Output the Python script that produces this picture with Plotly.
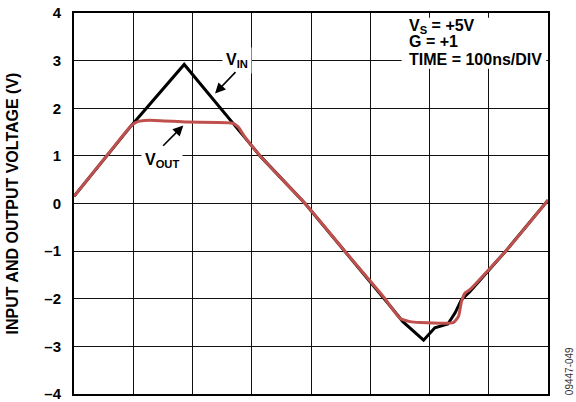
import plotly.graph_objects as go

# Time axis in ns (100 ns/div), voltages in V
t_vin = [0, 55, 97, 186, 267, 314, 390, 457, 525, 533, 555, 590, 609, 631, 643, 654, 668, 730, 800]
v_in = [0.15, 1.0, 1.64, 2.92, 1.69, 1.0, 0.0, -1.0, -2.0, -2.14, -2.48, -2.87, -2.61, -2.53, -2.30, -2.02, -1.85, -0.98, 0.07]

t_vout = [0, 55, 97, 104, 111, 128, 191, 266, 277, 287, 314, 390, 457, 525, 533, 550, 567, 584, 640, 649, 654, 660, 668, 730, 800]
v_out = [0.15, 1.0, 1.64, 1.70, 1.73, 1.75, 1.71, 1.69, 1.61, 1.42, 1.0, 0.0, -1.0, -2.0, -2.14, -2.41, -2.48, -2.50, -2.50, -2.37, -2.06, -1.88, -1.81, -0.98, 0.07]

y_ticks = [-4, -3, -2, -1, 0, 1, 2, 3, 4]
y_ticktext = ["–4", "–3", "–2", "–1", "0", "1", "2", "3", "4"]
x_ticks = [0, 100, 200, 300, 400, 500, 600, 700, 800]

FONT = "Liberation Sans, Arial, sans-serif"

fig = go.Figure()
fig.add_trace(go.Scatter(x=t_vin, y=v_in, mode="lines",
                         line=dict(color="black", width=3), showlegend=False))
fig.add_trace(go.Scatter(x=t_vout, y=v_out, mode="lines",
                         line=dict(color="#C0504D", width=3, shape="spline", smoothing=0.5),
                         showlegend=False))

fig.update_xaxes(range=[0, 800], tickvals=x_ticks, showticklabels=False,
                 showgrid=True, gridcolor="#111", gridwidth=1.2,
                 showline=True, mirror=True, linecolor="black", linewidth=2,
                 zeroline=False, ticks="", automargin=False)
fig.update_yaxes(range=[-4, 4], tickvals=y_ticks, ticktext=y_ticktext,
                 tickfont=dict(family=FONT, size=15, color="black", weight="bold"),
                 ticklabelstandoff=8, ticklabeloverflow="allow", automargin=False,
                 showgrid=True, gridcolor="#111", gridwidth=1.2,
                 showline=True, mirror=True, linecolor="black", linewidth=2,
                 zeroline=False, ticks="")

# white background for info block
fig.add_shape(type="rect", xref="x", yref="y", x0=553, x1=797, y0=2.83, y1=3.9,
              fillcolor="white", line=dict(width=0), layer="above")

bold16 = dict(family=FONT, size=16, color="black", weight="bold")
anns = [
    dict(text="V<sub>S</sub> = +5V", x=562, y=3.72),
    dict(text="G = +1", x=562, y=3.41),
    dict(text="TIME = 100ns/DIV", x=562, y=3.03),
]
for a in anns:
    fig.add_annotation(text=a["text"], x=a["x"], y=a["y"], xref="x", yref="y",
                       xanchor="left", yanchor="middle", showarrow=False, font=bold16)

fig.add_annotation(text="V<sub>IN</sub>", x=275, y=3.01, xref="x", yref="y",
                   showarrow=False, font=bold16, bgcolor="white", borderpad=3)
fig.add_annotation(text="V<sub>OUT</sub>", x=148, y=0.90, xref="x", yref="y",
                   showarrow=False, font=bold16, bgcolor="white", borderpad=3)

# arrows
fig.add_annotation(text="", x=238, y=2.31, ax=275, ay=2.79, xref="x", yref="y",
                   axref="x", ayref="y", showarrow=True, arrowhead=2, arrowsize=1.3,
                   arrowwidth=1.6, arrowcolor="black", standoff=0)
fig.add_annotation(text="", x=184.5, y=1.64, ax=148, ay=1.18, xref="x", yref="y",
                   axref="x", ayref="y", showarrow=True, arrowhead=2, arrowsize=1.3,
                   arrowwidth=1.6, arrowcolor="black", standoff=0)

# y-axis title
fig.add_annotation(text="INPUT AND OUTPUT VOLTAGE (V)", x=0, y=0.5, xref="paper", yref="paper",
                   xanchor="center", yanchor="middle", xshift=-62, textangle=-90,
                   showarrow=False, font=dict(family=FONT, size=16, color="black", weight="bold"))

# figure code
fig.add_annotation(text="09447-049", x=1, y=0.06, xref="paper", yref="paper",
                   xanchor="center", yanchor="middle", xshift=21, textangle=-90,
                   showarrow=False, font=dict(family=FONT, size=10, color="#333"))

fig.update_layout(width=576, height=402, margin=dict(l=74, r=28, t=13, b=8, autoexpand=False),
                  paper_bgcolor="white", plot_bgcolor="white")

fig.write_html("out.html", config={"displayModeBar": False},
               post_script="document.body.style.margin='0';")
